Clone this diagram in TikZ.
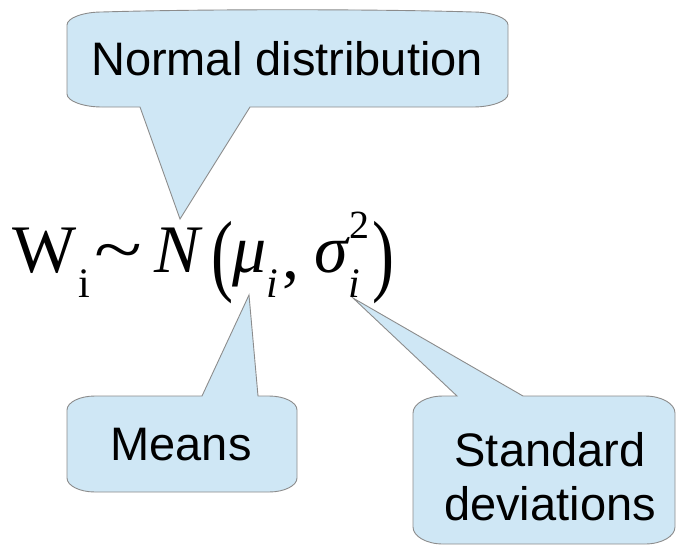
\documentclass[tikz,border=0pt]{standalone}
\usepackage{fontspec}
\usepackage{graphicx}
\setmainfont{Liberation Sans}
\newfontfamily\formfont{Liberation Serif}
\definecolor{callfill}{HTML}{CFE7F5}
\definecolor{callline}{HTML}{8C8C8C}
\begin{document}
\begin{tikzpicture}[x=1pt,y=-1pt,
  callout/.style={fill=callfill,draw=callline,line width=0.9pt,line join=miter},
  lbl/.style={inner sep=0pt,anchor=base,font=\fontsize{47}{54}\selectfont},
  fm/.style={inner sep=0pt,anchor=base,font=\formfont\fontsize{68}{70}\selectfont},
  fmi/.style={inner sep=0pt,anchor=base,font=\formfont\itshape\fontsize{68}{70}\selectfont},
  fmsub/.style={inner sep=0pt,anchor=base,font=\formfont\fontsize{42}{44}\selectfont},
  fmsubi/.style={inner sep=0pt,anchor=base,font=\formfont\itshape\fontsize{42}{44}\selectfont},
  fmsup/.style={inner sep=0pt,anchor=base,font=\formfont\fontsize{40}{42}\selectfont},
  paren/.style={inner sep=0pt,anchor=base,font=\formfont\fontsize{66}{68}\selectfont}]
\useasboundingbox (0,0) rectangle (676,546);

% tips of the callouts
\coordinate (tipNormal) at (180,219);
\coordinate (tipMeans) at (249,295);
\coordinate (tipStd) at (353,298);

% Normal distribution callout
\path[callout] (102,12) .. controls (200,9) and (375,9) .. (473,12)
  .. controls (492,12) and (508,18) .. (508,25)
  -- (508,94) .. controls (508,101) and (492,107) .. (473,107)
  -- (250,107) -- (tipNormal) -- (140,107)
  -- (102,107) .. controls (83,107) and (67,101) .. (67,94)
  -- (67,25) .. controls (67,18) and (83,12) .. (102,12) -- cycle;

% Means callout
\path[callout] (95,396) -- (202,396) -- (tipMeans) -- (258,396)
  -- (269,396) .. controls (284.4,396) and (297,402.3) .. (297,410)
  -- (297,478) .. controls (297,485.7) and (284.4,492) .. (269,492)
  -- (95,492) .. controls (79.6,492) and (67,485.7) .. (67,478)
  -- (67,410) .. controls (67,402.3) and (79.6,396) .. (95,396) -- cycle;

% Standard deviations callout
\path[callout] (443,396) -- (457,396) -- (tipStd) -- (523,396)
  -- (645,396) .. controls (661.5,396) and (675,403.6) .. (675,413)
  -- (675,527) .. controls (675,536.4) and (661.5,544) .. (645,544)
  -- (443,544) .. controls (426.5,544) and (413,536.4) .. (413,527)
  -- (413,413) .. controls (413,403.6) and (426.5,396) .. (443,396) -- cycle;

% labels
\node[lbl] (normal) at (287,75) {Normal distribution};
\node[lbl] (means) at (181,460) {Means};
\node[lbl] (std1) at (550,466) {Standard};
\node[lbl] (std2) at (550,520) {deviations};

% formula
\node[fm] (W) at (45,272) {W};
\node[fmsub] (Wi) at (84,297) {i};
\node[fm] (tilde) at (118,272) {\scalebox{1.3}[1]{\char"007E}};
\node[fmi] (N) at (177,272) {N};
\node[paren] (lp) at (222,284) {\scalebox{1}[1.38]{(}};
\node[fmi] (mu) at (250,272) {μ};
\node[fmsubi] (mui) at (272,297) {i};
\node[fm] (comma) at (291,278) {,};
\node[fmi] (sigma) at (331,272) {σ};
\node[fmsup] (two) at (359,238) {2};
\node[fmsubi] (sigi) at (354,297) {i};
\node[paren] (rp) at (383,284) {\scalebox{1}[1.38]{)}};
\end{tikzpicture}
\end{document}
